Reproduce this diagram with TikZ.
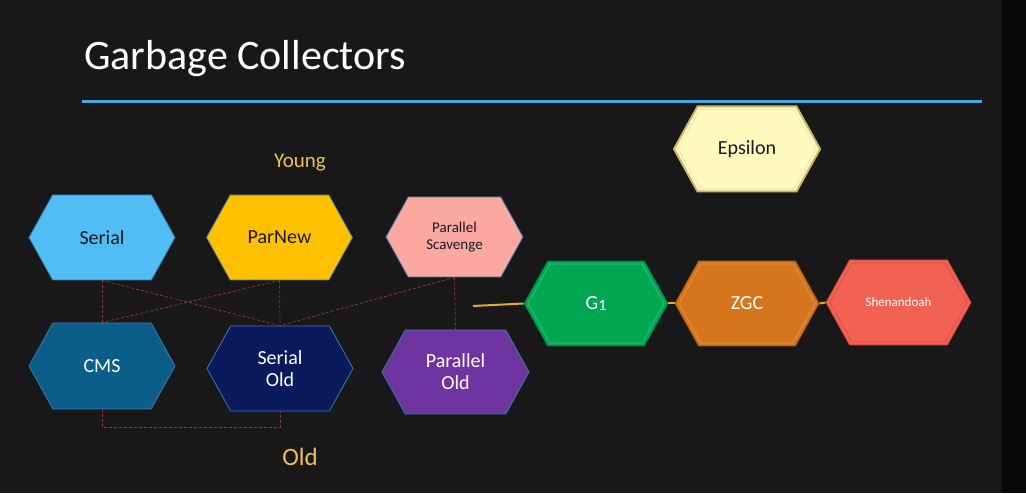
\documentclass[tikz,border=0pt]{standalone}
\usepackage{fontspec}
\setmainfont{Carlito}
\usetikzlibrary{shapes.symbols}

\definecolor{board}{RGB}{24,24,24}
\definecolor{boardedge}{RGB}{8,8,8}
\definecolor{rule}{RGB}{64,170,225}
\definecolor{hexedge}{RGB}{60,120,170}
\definecolor{serialc}{RGB}{80,190,245}
\definecolor{parnewc}{RGB}{255,192,0}
\definecolor{scavc}{RGB}{250,168,160}
\definecolor{cmsc}{RGB}{12,94,138}
\definecolor{soldc}{RGB}{10,26,92}
\definecolor{poldc}{RGB}{112,52,160}
\definecolor{epsc}{RGB}{255,250,190}
\definecolor{epsedge}{RGB}{205,185,110}
\definecolor{g1c}{RGB}{0,166,82}
\definecolor{g1edge}{RGB}{0,110,60}
\definecolor{zgcc}{RGB}{214,118,28}
\definecolor{zgcedge}{RGB}{150,80,15}
\definecolor{shenc}{RGB}{242,98,82}
\definecolor{shenedge}{RGB}{200,70,58}
\definecolor{gold}{RGB}{242,192,80}
\definecolor{link}{RGB}{225,175,30}
\definecolor{pair}{RGB}{150,55,55}
\definecolor{darktext}{RGB}{25,25,35}

\begin{document}
\begin{tikzpicture}[x=1pt,y=1pt,
  hexa/.style={signal, signal to=east and west, signal pointer angle=122,
    minimum width=146pt, minimum height=85pt, inner sep=0pt,
    draw=hexedge, line width=0.8pt, align=center,
    font=\fontsize{20}{22}\selectfont},
  bevel/.style={signal, signal to=east and west, signal pointer angle=122,
    minimum width=138pt, minimum height=79pt, inner sep=0pt, line width=0.6pt,
    draw opacity=0.7},
  pairline/.style={draw=pair, line width=0.7pt, dash pattern=on 3pt off 2pt},
  linkline/.style={draw=link, line width=2pt},
  label/.style={text=gold, font=\fontsize{21}{24}\selectfont}]

% chalkboard
\fill[board] (0,0) rectangle (1026,493);
\fill[boardedge] (1002,0) rectangle (1026,493);
\useasboundingbox (0,0) rectangle (1026,493);

% title and rule
\node[anchor=base west, text=white, font=\fontsize{42}{46}\selectfont, inner sep=0pt] (title) at (84,423) {Garbage Collectors};
\draw[rule, line width=3pt] (82,391) -- (982,391);

% generational collectors
\node[hexa, fill=serialc, text=darktext] (serial) at (102,255.5) {Serial};
\node[hexa, fill=parnewc, text=darktext] (parnew) at (279.5,255.5) {ParNew};
\node[hexa, fill=scavc, text=darktext, minimum width=137pt, minimum height=80pt,
      font=\fontsize{15}{17}\selectfont] (scav) at (454.5,256) {Parallel\\Scavenge};
\node[hexa, fill=cmsc, text=white, minimum height=86pt] (cms) at (102,127) {CMS};
\node[hexa, fill=soldc, text=white] (sold) at (280,124.5) {Serial\\Old};
\node[hexa, fill=poldc, text=white, minimum width=147pt, minimum height=84pt] (pold) at (455.5,121) {Parallel\\Old};

\node[label] (young) at (300,330) {Young};
\node[label, font=\fontsize{25}{28}\selectfont] (old) at (300,36) {Old};

% young/old pairings
\draw[pairline] (serial.south) -- (cms.north);
\draw[pairline] (serial.south) -- (sold.north);
\draw[pairline] (parnew.south) -- (cms.north);
\draw[pairline] (parnew.south) -- (sold.north);
\draw[pairline] (scav.south) -- (sold.north);
\draw[pairline] (scav.south) -- (pold.north);
\draw[pairline] (cms.south) -- ++(0,-18) -| (sold.south);

% region-based collectors
\node[hexa, fill=epsc, draw=epsedge, line width=2pt, text=darktext] (eps) at (747,344) {Epsilon};
\node[bevel, draw=epsedge!55!white] (epsin) at (747,344) {};
\node[hexa, fill=g1c, draw=g1edge, minimum width=144pt, text=white] (g1) at (596,189.5) {G\raisebox{-0.04em}{\fontsize{16}{20}\selectfont 1}};
\node[bevel, minimum width=136pt, draw=g1c!60!white] (g1in) at (596,189.5) {};
\node[hexa, fill=zgcc, draw=zgcedge, minimum width=144pt, text=white] (zgc) at (747,189.5) {ZGC};
\node[bevel, minimum width=136pt, draw=zgcc!65!white] (zgcin) at (747,189.5) {};
\node[hexa, fill=shenc, draw=shenedge, minimum width=145pt, text=white,
      font=\fontsize{13}{15}\selectfont] (shen) at (898.5,190.5) {Shenandoah};
\node[bevel, minimum width=137pt, draw=shenedge] (shenin) at (898.5,190.5) {};

\coordinate (feed) at (473,187);
\draw[linkline] (feed) -- (g1.west);
\draw[linkline] (g1.east) -- (zgc.west);
\draw[linkline] (zgc.east) -- (shen.west);
\end{tikzpicture}
\end{document}
